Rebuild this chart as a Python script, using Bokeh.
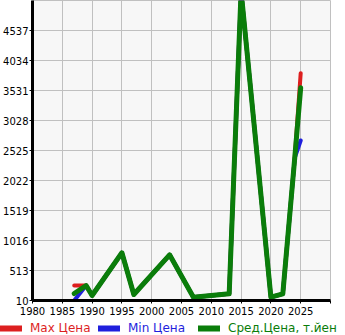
from bokeh.plotting import figure
from bokeh.layouts import column
from bokeh.models import Legend, LegendItem, FixedTicker, Range1d, ColumnDataSource
from bokeh.embed import file_html
from bokeh.resources import INLINE

years = [1987, 1989, 1990, 1995, 1997, 2003, 2007, 2013, 2015, 2020, 2022, 2024, 2025]
avg_price = [127, 261, 94, 810, 110, 776, 65, 122, 5200, 65, 122, 2400, 3576]
max_price = [261, 261, 94, 810, 110, 776, 65, 122, 5200, 65, 122, 2400, 3822]
min_price = [10, 261, 94, 810, 110, 776, 65, 122, 5200, 65, 122, 2400, 2693]

x_ticks = [1980, 1985, 1990, 1995, 2000, 2005, 2010, 2015, 2020, 2025, 2030]
y_ticks = [10, 513, 1016, 1519, 2022, 2525, 3028, 3531, 4034, 4537]
labels = ["Max Цена", "Min Цена", "Сред.Цена, т.йен"]
colors = ["#dd1f1f", "#1f1fdd", "#0a7d0a"]
widths = [4, 4, 5]

src = ColumnDataSource(dict(x=years, avg=avg_price, mx=max_price, mn=min_price))

p = figure(width=345, height=320, output_backend="svg", toolbar_location=None,
           x_range=Range1d(1980, 2030), y_range=Range1d(10, 5040),
           min_border_left=30, min_border_right=15, min_border_top=0,
           min_border_bottom=20)
p.frame_align = False
p.background_fill_color = "#f7f7f7"
p.border_fill_color = "white"
p.outline_line_color = "#c0c0c0"

r_max = p.line("x", "mx", source=src, line_color=colors[0], line_width=widths[0],
               line_cap="round", line_join="round")
r_min = p.line("x", "mn", source=src, line_color=colors[1], line_width=widths[1],
               line_cap="round", line_join="round")
r_avg = p.line("x", "avg", source=src, line_color=colors[2], line_width=widths[2],
               line_cap="round", line_join="round")

for ax in (p.xaxis[0], p.yaxis[0]):
    ax.axis_line_width = 3
    ax.axis_line_color = "black"
    ax.major_tick_line_color = "black"
    ax.major_tick_in = 0
    ax.major_tick_out = 3
    ax.minor_tick_line_color = None
    ax.major_label_text_font = "DejaVu Sans"
    ax.major_label_text_font_size = "10px"
    ax.major_label_text_color = "black"
    ax.major_label_standoff = 1
p.xaxis.major_label_standoff = 3

p.xaxis.ticker = FixedTicker(ticks=x_ticks)
p.xaxis.major_label_overrides = {2030: ""}
p.yaxis.ticker = FixedTicker(ticks=y_ticks)
p.xgrid.ticker = FixedTicker(ticks=x_ticks)
p.ygrid.ticker = FixedTicker(ticks=y_ticks)
for g in (p.xgrid[0], p.ygrid[0]):
    g.grid_line_color = "#c0c0c0"
    g.grid_line_width = 1

# legend strip: same series, drawn through a range where they fall outside the frame
lp = figure(width=345, height=15, output_backend="svg", toolbar_location=None,
            x_range=Range1d(0, 1), y_range=Range1d(0, 1),
            x_axis_location=None, y_axis_location=None,
            min_border_left=0, min_border_right=0, min_border_top=0, min_border_bottom=0)
lp.frame_align = False
lp.grid.visible = False
lp.outline_line_color = None
lp.background_fill_color = "white"
lp.border_fill_color = "white"

lrs = []
for key, col in zip(("mx", "mn", "avg"), colors):
    lrs.append(lp.line("x", key, source=src, line_color=col, line_width=6,
                       line_cap="round", line_join="round"))

offsets = [0, 98, 198]
for r, lab, col, off in zip(lrs, labels, colors, offsets):
    lg = Legend(items=[LegendItem(label=lab, renderers=[r])], location=(off, 0),
                border_line_color=None, background_fill_alpha=0, padding=0, margin=0,
                glyph_width=22, glyph_height=14, label_height=14, label_standoff=8,
                label_text_color=col, label_text_font="DejaVu Sans",
                label_text_font_size="12px", label_text_baseline="middle")
    lp.add_layout(lg, "center")

layout = column(p, lp, spacing=0)
open("out.html", "w").write(file_html(layout, INLINE))
